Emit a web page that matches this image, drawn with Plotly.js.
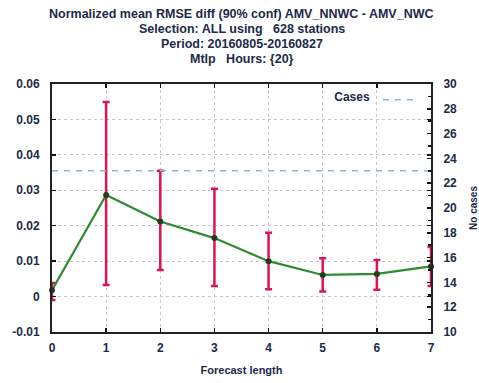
<!DOCTYPE html>
<html>
<head>
<meta charset="utf-8">
<script src="https://cdn.plot.ly/plotly-3.0.1.min.js"></script>
<style>
  html, body { margin: 0; padding: 0; background: #ffffff; }
  #chart { width: 479px; height: 383px; }
</style>
</head>
<body>
<div id="chart"></div>
<script>
// Forecast lengths and the normalized RMSE difference with its 90% confidence range
const forecastLength = [0, 1, 2, 3, 4, 5, 6, 7];
const rmseDiff   = [0.0018, 0.0287, 0.0212, 0.0165, 0.0100, 0.0061, 0.0064, 0.0085];
const ciUpper    = [0.0038, 0.0549, 0.0355, 0.0304, 0.0180, 0.0108, 0.0103, 0.0140];
const ciLower    = [-0.0010, 0.0033, 0.0075, 0.0030, 0.0021, 0.0014, 0.0019, 0.0030];
// Number of cases per forecast length (right axis)
const cases      = [23, 23, 23, 23, 23, 23, 23, 23];

const titleLines = [
  'Normalized mean RMSE diff (90% conf) AMV_NNWC - AMV_NWC',
  'Selection: ALL using &nbsp; 628 stations',
  'Period: 20160805-20160827',
  'Mtlp &nbsp; Hours: {20}'
];

const errPlus  = rmseDiff.map((v, i) => ciUpper[i] - v);
const errMinus = rmseDiff.map((v, i) => v - ciLower[i]);

const ink = '#1c2a48';
const family = 'Liberation Sans, Arial, sans-serif';

const traces = [
  {
    x: forecastLength, y: cases, yaxis: 'y2',
    type: 'scatter', mode: 'lines', name: ' ',
    line: { color: '#8db6d6', width: 1.5, dash: '6px,6px' },
    hoverinfo: 'skip', showlegend: true
  },
  {
    x: forecastLength, y: rmseDiff,
    type: 'scatter', mode: 'markers', showlegend: false,
    marker: { size: 1, color: 'rgba(0,0,0,0)' },
    error_y: {
      type: 'data', symmetric: false, array: errPlus, arrayminus: errMinus,
      color: '#dc1450', thickness: 2.5, width: 3.5
    },
    cliponaxis: false
  },
  {
    x: forecastLength, y: rmseDiff,
    type: 'scatter', mode: 'lines+markers', showlegend: false,
    line: { color: '#2e8b2e', width: 2.2 },
    marker: { size: 6, color: '#243a24' },
    cliponaxis: false
  }
];

// Title block: one centred line each, stacked from the top of the page
const titleRows = [14, 29, 44, 59];
const annotations = titleLines.map((t, i) => ({
  text: '<b>' + t + '</b>',
  xref: 'paper', x: 0.5, xanchor: 'center',
  yref: 'paper', y: (332 - titleRows[i]) / 248, yanchor: 'middle',
  showarrow: false,
  font: { family: family, size: 12.5, color: ink }
}));

const layout = {
  width: 479, height: 383,
  margin: { l: 52, r: 48, t: 84, b: 51 },
  paper_bgcolor: '#ffffff', plot_bgcolor: '#ffffff',
  font: { family: family, size: 12, color: ink },
  annotations: annotations,
  showlegend: true,
  legend: {
    x: 0.99, xanchor: 'right', y: 0.995, yanchor: 'top',
    bgcolor: 'rgba(255,255,255,0)', borderwidth: 0,
    title: { text: '<b>Cases</b>', side: 'left', font: { size: 12, color: ink } },
    font: { size: 12, color: ink }
  },
  xaxis: {
    range: [0, 7], tickvals: forecastLength, ticktext: forecastLength.map(String),
    ticks: 'inside', ticklen: 4, tickwidth: 1.5, tickcolor: '#111',
    showline: true, linecolor: '#222', linewidth: 2, mirror: 'ticks',
    showgrid: true, gridcolor: '#c8c8c8', griddash: 'dot', gridwidth: 1,
    zeroline: false,
    tickfont: { size: 12, color: ink, weight: 'bold' },
    ticklabelstandoff: 4,
    title: { text: '<b>Forecast length</b>', standoff: 12, font: { size: 11, color: ink } }
  },
  yaxis: {
    range: [-0.01, 0.06],
    tickvals: [-0.01, 0, 0.01, 0.02, 0.03, 0.04, 0.05, 0.06],
    ticktext: ['-0.01', '0', '0.01', '0.02', '0.03', '0.04', '0.05', '0.06'],
    ticks: 'inside', ticklen: 4, tickwidth: 1.5, tickcolor: '#111',
    showline: true, linecolor: '#222', linewidth: 2, mirror: 'ticks',
    showgrid: true, gridcolor: '#c8c8c8', griddash: 'dot', gridwidth: 1,
    zeroline: false,
    tickfont: { size: 12, color: ink, weight: 'bold' },
    ticklabelstandoff: 8
  },
  yaxis2: {
    overlaying: 'y', side: 'right', range: [10, 30], dtick: 2,
    ticks: 'inside', ticklen: 4, tickwidth: 1.5, tickcolor: '#111',
    minor: { dtick: 1, ticks: 'inside', ticklen: 3, tickcolor: '#111' },
    showline: true, linecolor: '#222', linewidth: 2,
    showgrid: false, zeroline: false,
    tickfont: { size: 12, color: ink, weight: 'bold' },
    ticklabelstandoff: 8,
    title: { text: '<b>No cases</b>', standoff: 22, font: { size: 10, color: ink } }
  }
};

Plotly.newPlot('chart', traces, layout, { displayModeBar: false, staticPlot: true });
</script>
</body>
</html>
